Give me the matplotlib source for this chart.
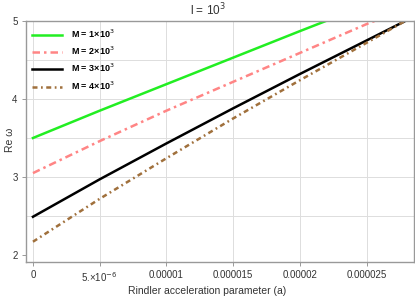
import matplotlib
matplotlib.use("Agg")
import matplotlib.pyplot as plt

plt.rcParams['font.family'] = ['Liberation Sans', 'DejaVu Sans']

# Rindler acceleration parameter (a) and Re(omega)
a_m1 = [0, 5e-6, 10e-6, 15e-6, 20e-6, 21.95e-6]
w_m1 = [3.50, 3.85, 4.19, 4.53, 4.87, 5.00]

a_m2 = [0, 5e-6, 10e-6, 15e-6, 20e-6, 25e-6, 25.6e-6]
w_m2 = [3.05, 3.46, 3.85, 4.22, 4.59, 4.96, 5.00]

a_m3 = [0, 5e-6, 10e-6, 15e-6, 20e-6, 25e-6, 27.9e-6]
w_m3 = [2.49, 2.97, 3.43, 3.88, 4.32, 4.75, 5.00]

a_m4 = [0, 5e-6, 10e-6, 15e-6, 20e-6, 25e-6, 27.9e-6]
w_m4 = [2.17, 2.72, 3.24, 3.75, 4.24, 4.72, 5.00]

labels = ['M = 1×10$^3$', 'M = 2×10$^3$', 'M = 3×10$^3$', 'M = 4×10$^3$']
xticks = [0, 5e-6, 1e-5, 1.5e-5, 2e-5, 2.5e-5]
xticklabels = ['0', '5.×10$^{-6}$', '0.00001', '0.000015', '0.00002', '0.000025']
yticks = [2, 3, 4, 5]
ygrid = [2.5, 3, 3.5, 4, 4.5]

fig = plt.figure(figsize=(4.15, 2.98), dpi=100)
ax = fig.add_axes([0.0627, 0.1208, 0.9349, 0.8087])

ax.plot(a_m1, w_m1, color='#22ee22', lw=1.8, label=labels[0])
ax.plot(a_m2, w_m2, color='#ff8585', lw=1.8, dashes=(3, 1.6, 1, 1.6), label=labels[1])
ax.plot(a_m3, w_m3, color='black', lw=1.8, label=labels[2])
ax.plot(a_m4, w_m4, color='#a0703c', lw=1.8, dashes=(2, 1.4, 0.7, 1.4), label=labels[3])

ax.set_xlim(-0.52e-6, 28.56e-6)
ax.set_ylim(1.91, 5.0)
ax.set_xticks(xticks)
ax.set_xticklabels(xticklabels)
ax.set_yticks(yticks)

for x in xticks:
    ax.axvline(x, color='#dddddd', lw=0.7, zorder=0)
for y in ygrid:
    ax.axhline(y, color='#dddddd', lw=0.7, zorder=0)

for s in ax.spines.values():
    s.set_color('#999999')
    s.set_linewidth(1.0)
ax.tick_params(direction='out', length=3, width=0.7, color='#999999',
               labelsize=7, labelcolor='#333333', pad=3)

fig.text(0.5, 1 - 10 / 298, 'l = 10$^3$', fontsize=8.5, color='#333333',
         ha='center', va='center')
fig.text(0.5, 1 - 291 / 298, 'Rindler acceleration parameter (a)', fontsize=7.5,
         color='#333333', ha='center', va='center')
fig.text(10 / 415, 1 - 140 / 298, 'Re ω', fontsize=7.5, color='#333333',
         ha='center', va='center', rotation=90)

leg = ax.legend(loc='upper left', frameon=False, fontsize=6.5, handlelength=3.3,
                labelspacing=0.55, borderaxespad=0.3, handletextpad=1.0)
for t in leg.get_texts():
    t.set_fontweight('bold')

fig.savefig('out.png', dpi=100)
